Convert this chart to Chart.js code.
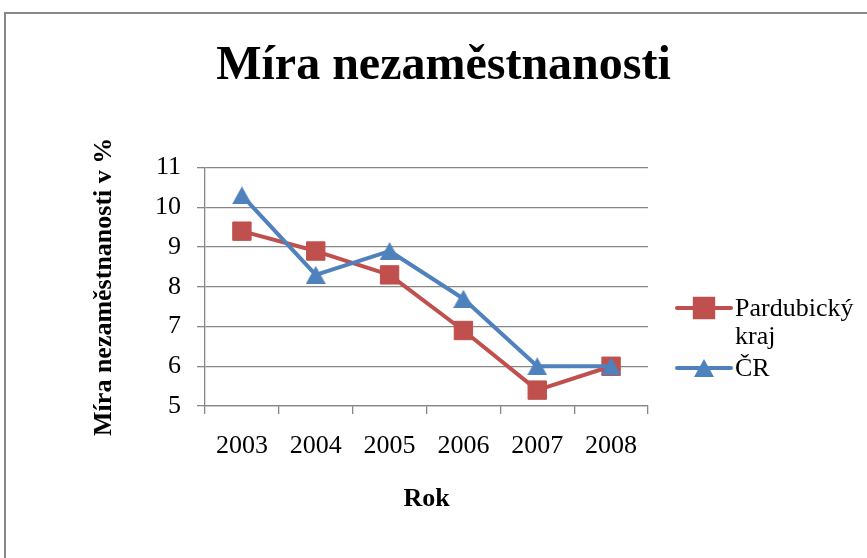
<!DOCTYPE html>
<html>
<head>
<meta charset="utf-8">
<script src="https://cdn.jsdelivr.net/npm/chart.js@4"></script>
<style>
html, body { margin: 0; padding: 0; background: #fff; overflow: hidden; }
#ramecek { position: absolute; left: 4px; top: 12px; width: 1000px; height: 1000px; border: 2px solid #898989; }
#obal { position: absolute; left: 0; top: 0; width: 867px; height: 558px; }
</style>
</head>
<body>
<div id="ramecek"></div>
<div id="obal"><canvas id="graf" width="867" height="558"></canvas></div>
<script>
// data vyčtená z grafu
const roky = ['2003', '2004', '2005', '2006', '2007', '2008'];
const pardubickyKraj = [9.4, 8.9, 8.3, 6.9, 5.4, 6.0];
const ceskaRepublika = [10.3, 8.3, 8.9, 7.7, 6.0, 6.0];
const osaYmin = 5;
const osaYmax = 11;
const osaYkrok = 1;

const cervena = '#C0504D';
const modra = '#4F81BD';
const mrizka = '#878787';

Chart.defaults.font.family = '"Liberation Serif", "Times New Roman", serif';
Chart.defaults.color = '#000';

// trojúhelník vycentrovaný na střed, jako v Excelu
function trojuhelnik(barva, w, h) {
    const c = document.createElement('canvas');
    c.width = w;
    c.height = h;
    const g = c.getContext('2d');
    g.fillStyle = barva;
    g.beginPath();
    g.moveTo(w / 2, 0);
    g.lineTo(w, h);
    g.lineTo(0, h);
    g.closePath();
    g.fill();
    return c;
}
const modryTrojuhelnik = trojuhelnik(modra, 20, 18);

function zalomit(ctx, text, maxSirka) {
    const slova = text.split(' ');
    const radky = [];
    let radek = '';
    slova.forEach(s => {
        const zkus = radek ? radek + ' ' + s : s;
        if (radek && ctx.measureText(zkus).width > maxSirka) {
            radky.push(radek);
            radek = s;
        } else {
            radek = zkus;
        }
    });
    if (radek) radky.push(radek);
    return radky;
}

// legenda vpravo se zalamovaným textem
const legendaVpravo = {
    id: 'legendaVpravo',
    afterDraw(chart) {
        const ctx = chart.ctx;
        const x0 = chart.chartArea.right + 29;
        let y = 308;
        ctx.save();
        ctx.font = '26px "Liberation Serif"';
        ctx.textBaseline = 'middle';
        ctx.textAlign = 'left';
        const poradi = [0, 1];
        poradi.forEach(i => {
            const ds = chart.data.datasets[i];
            ctx.strokeStyle = ds.borderColor;
            ctx.lineWidth = 4;
            ctx.lineCap = 'round';
            ctx.beginPath();
            ctx.moveTo(x0, y);
            ctx.lineTo(x0 + 54, y);
            ctx.stroke();
            ctx.fillStyle = ds.backgroundColor;
            ctx.strokeStyle = ds.borderColor;
            Chart.helpers.drawPoint(ctx, {
                pointStyle: ds.pointStyle,
                radius: ds.pointRadius,
                borderWidth: ds.pointBorderWidth || 0,
                rotation: 0
            }, x0 + 27, y);
            ctx.fillStyle = '#000';
            const radky = zalomit(ctx, ds.label, 128);
            radky.forEach((r, k) => ctx.fillText(r, x0 + 58, y + 1.5 + k * 28));
            y += (radky.length - 1) * 28 + 32;
        });
        ctx.restore();
    }
};

const graf = new Chart(document.getElementById('graf').getContext('2d'), {
    type: 'line',
    data: {
        labels: roky,
        datasets: [
            {
                label: 'Pardubický kraj',
                data: pardubickyKraj,
                borderColor: cervena,
                backgroundColor: cervena,
                borderWidth: 4,
                pointStyle: 'rect',
                pointRadius: 13,
                pointBorderWidth: 1,
                pointHoverRadius: 13,
                tension: 0,
                borderJoinStyle: 'round',
                borderCapStyle: 'round',
                order: 1
            },
            {
                label: 'ČR',
                data: ceskaRepublika,
                borderColor: modra,
                backgroundColor: modra,
                borderWidth: 4,
                pointStyle: modryTrojuhelnik,
                pointRadius: 10,
                pointBorderWidth: 0,
                pointHoverRadius: 10,
                tension: 0,
                borderJoinStyle: 'round',
                borderCapStyle: 'round',
                order: 0
            }
        ]
    },
    options: {
        responsive: false,
        animation: false,
        layout: {
            padding: { left: 20, right: 0, top: 0, bottom: 20 }
        },
        plugins: {
            legend: { display: false },
            tooltip: { enabled: false },
            title: {
                display: true,
                text: 'Míra nezaměstnanosti',
                font: { size: 48, weight: 'bold' },
                color: '#000',
                padding: { top: 38, bottom: 72 }
            }
        },
        scales: {
            x: {
                offset: true,
                grid: {
                    offset: true,
                    drawOnChartArea: false,
                    drawTicks: true,
                    tickLength: 8,
                    color: mrizka,
                    lineWidth: 1.3
                },
                border: { display: true, color: mrizka, width: 1.3 },
                ticks: {
                    font: { size: 26 },
                    padding: 17,
                    maxRotation: 0
                },
                title: {
                    display: true,
                    text: 'Rok',
                    font: { size: 26, weight: 'bold' },
                    padding: { top: 0, bottom: 23 }
                },
                afterFit: s => { s.height = 132; }
            },
            y: {
                min: osaYmin,
                max: osaYmax,
                ticks: {
                    stepSize: osaYkrok,
                    font: { size: 26 },
                    padding: 16
                },
                grid: {
                    color: mrizka,
                    lineWidth: 1.3,
                    tickLength: 8
                },
                border: { display: true, color: mrizka, width: 1.3 },
                title: {
                    display: true,
                    text: 'Míra nezaměstnanosti v %',
                    font: { size: 26, weight: 'bold' },
                    padding: { top: 69, bottom: 0 }
                },
                afterFit: s => { s.width = 185; }
            },
            misto: {
                position: 'right',
                display: true,
                grid: { display: false },
                border: { display: false },
                ticks: { display: false },
                afterFit: s => { s.width = 219; }
            }
        }
    },
    plugins: [legendaVpravo]
});
</script>
</body>
</html>
